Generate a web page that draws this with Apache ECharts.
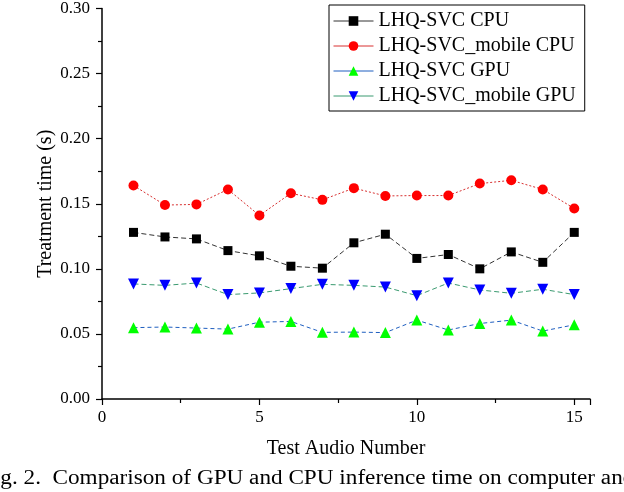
<!DOCTYPE html>
<html>
<head>
<meta charset="utf-8">
<script src="https://cdn.jsdelivr.net/npm/echarts@6/dist/echarts.min.js"></script>
<style>
html,body{margin:0;padding:0;background:#fff;}
#chart{width:624px;height:492px;}
</style>
</head>
<body>
<div id="chart"></div>
<script>
var xValues = [1,2,3,4,5,6,7,8,9,10,11,12,13,14,15];
var seriesNames = ['LHQ-SVC CPU','LHQ-SVC_mobile CPU','LHQ-SVC GPU','LHQ-SVC_mobile GPU'];
var cpu = [0.128,0.1245,0.123,0.114,0.110,0.102,0.1005,0.120,0.1266,0.108,0.111,0.100,0.113,0.105,0.128];
var mobileCpu = [0.164,0.149,0.1495,0.161,0.141,0.158,0.153,0.162,0.156,0.1563,0.1563,0.1655,0.168,0.161,0.1464];
var gpu = [0.0548,0.0553,0.0545,0.0537,0.059,0.0596,0.0512,0.0514,0.051,0.0606,0.053,0.058,0.0606,0.0522,0.057];
var mobileGpu = [0.0884,0.0873,0.0891,0.0802,0.0815,0.0848,0.0881,0.0873,0.086,0.0794,0.0891,0.0838,0.0812,0.0843,0.0802];
var xTitle = 'Test Audio Number';
var yTitle = 'Treatment time (s)';
var caption = 'Fig. 2.  Comparison of GPU and CPU inference time on computer and';

function pairs(vals){ return xValues.map(function(x,i){ return [x, vals[i]]; }); }
var font = 'Liberation Serif';
var chart = echarts.init(document.getElementById('chart'));
chart.setOption({
  backgroundColor:'#fff',
  animation:false,
  textStyle:{fontFamily:font},
  grid:{left:102,right:34,top:6.5,bottom:93,containLabel:false},
  legend:{
    orient:'vertical', left:329, top:5,
    itemWidth:40, itemHeight:12, itemGap:5,
    borderColor:'#000', borderWidth:1, borderRadius:0,
    padding:[6,9,5,4],
    lineStyle:{type:'solid', width:1},
    textStyle:{fontFamily:font, fontSize:20, color:'#000', lineHeight:20},
    data:seriesNames
  },
  xAxis:{
    type:'value', min:0, max:15.5, interval:5,
    name:xTitle, nameLocation:'middle', nameGap:40, nameMoveOverlap:false,
    nameTextStyle:{fontFamily:font, fontSize:20, color:'#000'},
    axisLine:{show:true, onZero:false, lineStyle:{color:'#000', width:1.5}},
    axisTick:{show:true, inside:false, length:6, lineStyle:{color:'#000', width:1.2}},
    minorTick:{show:true, splitNumber:2, length:4, lineStyle:{color:'#000', width:1.2}},
    axisLabel:{fontFamily:font, fontSize:17, color:'#000', margin:10,
      formatter:function(v){ return v % 5 === 0 ? String(v) : ''; }},
    splitLine:{show:false}
  },
  yAxis:{
    type:'value', min:0, max:0.30, interval:0.05,
    name:yTitle, nameLocation:'middle', nameGap:46, nameMoveOverlap:false,
    nameTextStyle:{fontFamily:font, fontSize:20, color:'#000'},
    axisLine:{show:true, lineStyle:{color:'#000', width:1.5}},
    axisTick:{show:true, inside:false, length:6, lineStyle:{color:'#000', width:1.2}},
    minorTick:{show:true, splitNumber:2, length:4, lineStyle:{color:'#000', width:1.2}},
    axisLabel:{fontFamily:font, fontSize:17, color:'#000', margin:12,
      formatter:function(v){ return v.toFixed(2); }},
    splitLine:{show:false}
  },
  series:[
    {name:seriesNames[0], type:'line', data:pairs(cpu), symbol:'rect', symbolSize:9,
     itemStyle:{color:'#000'}, lineStyle:{color:'#333', width:1, type:[5,3]}},
    {name:seriesNames[1], type:'line', data:pairs(mobileCpu), symbol:'circle', symbolSize:10,
     itemStyle:{color:'#ff0000'}, lineStyle:{color:'#d83030', width:1, type:[2,2]}},
    {name:seriesNames[2], type:'line', data:pairs(gpu), symbol:'triangle', symbolSize:11,
     itemStyle:{color:'#00ff00'}, lineStyle:{color:'#1f5fc0', width:1, type:[4,3]}},
    {name:seriesNames[3], type:'line', data:pairs(mobileGpu), symbol:'triangle', symbolRotate:180, symbolSize:11,
     itemStyle:{color:'#0000ff'}, lineStyle:{color:'#3a9a70', width:1, type:[5,3]}}
  ],
  graphic:[{
    type:'text', x:-19, y:469, scaleX:1.16,
    style:{text:caption, fontFamily:font, fontSize:20, fill:'#000', verticalAlign:'top', align:'left'}
  }]
});
</script>
</body>
</html>
